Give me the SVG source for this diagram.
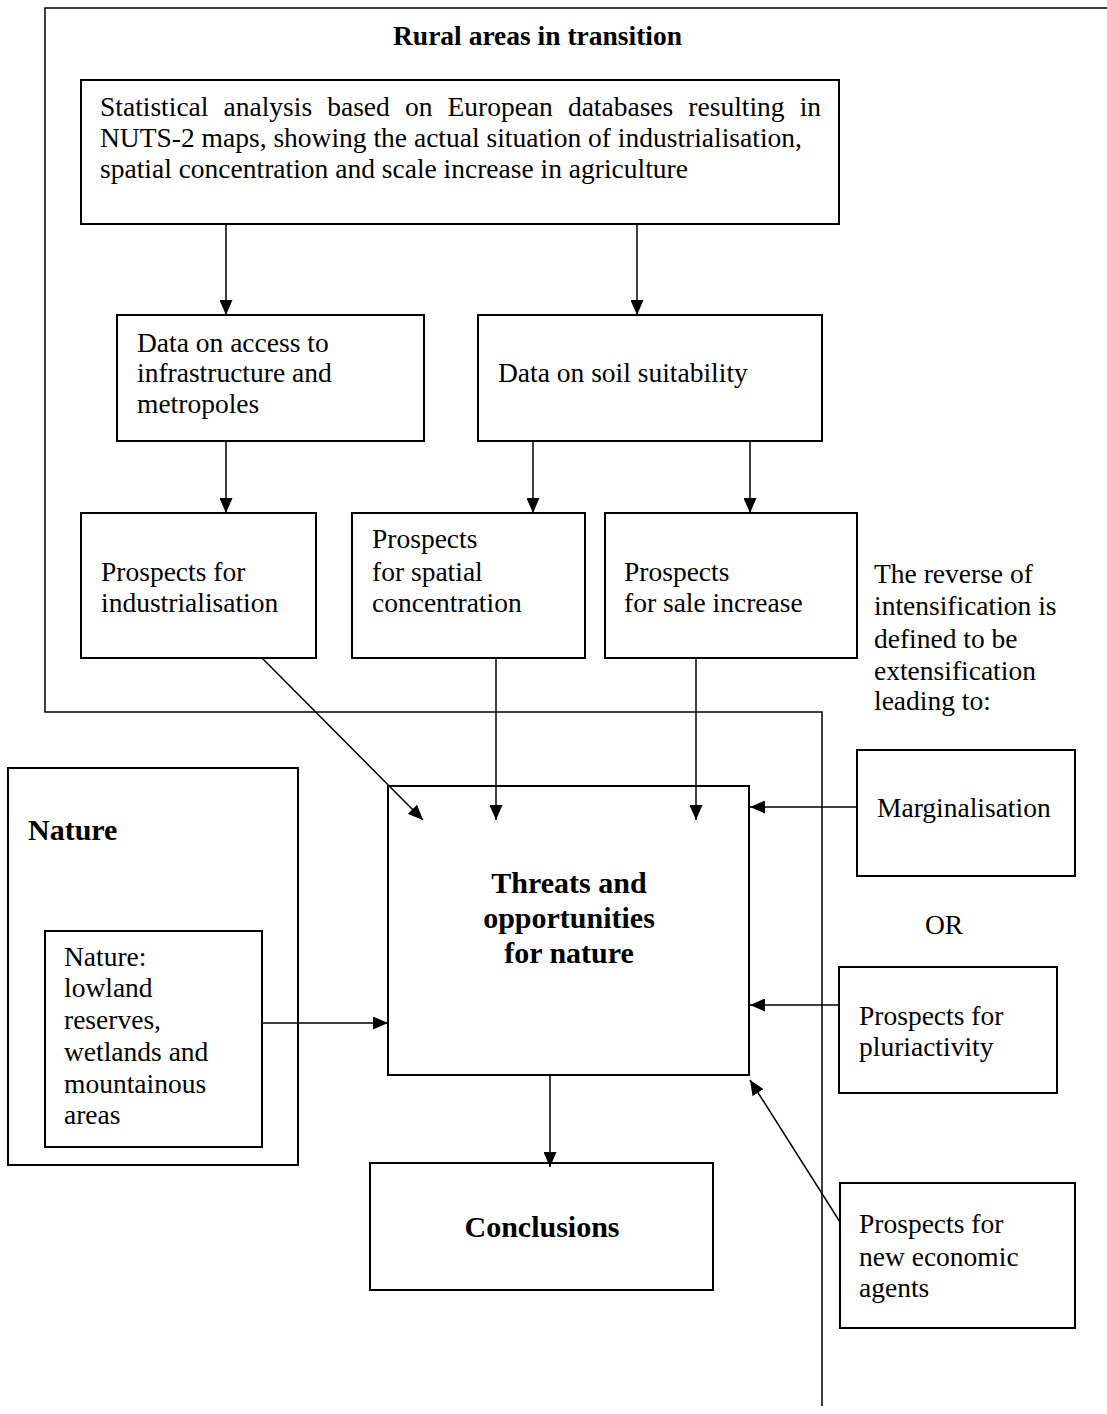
<svg xmlns="http://www.w3.org/2000/svg" width="1107" height="1414" viewBox="0 0 1107 1414">
<style>
.box{fill:none;stroke:#000;stroke-width:2}
.ln{fill:none;stroke:#000;stroke-width:1.5}
.t{font-family:"Liberation Serif","Times New Roman",serif;font-size:27.5px;fill:#000}
.b{font-family:"Liberation Serif","Times New Roman",serif;font-size:30px;font-weight:bold;fill:#000}
</style>
<defs>
<marker id="ah" markerUnits="userSpaceOnUse" markerWidth="15" markerHeight="13" refX="15" refY="6.5" orient="auto">
<path d="M0,0 L15,6.5 L0,13 z" fill="#000"/>
</marker>
</defs>
<rect width="1107" height="1414" fill="#fff"/>
<g id="rural-frame">
<path class="ln" d="M1107,8 H45 V712 H822 V1406"/>
<text class="t" x="393" y="45" style="font-weight:bold">Rural areas in transition</text>
</g>
<g id="statistical">
<rect class="box" x="81" y="80" width="758" height="144"/>
<text class="t" x="100" y="116" word-spacing="8.2">Statistical analysis based on European databases resulting in</text>
<text class="t" x="100" y="147">NUTS-2 maps, showing the actual situation of industrialisation,</text>
<text class="t" x="100" y="178">spatial concentration and scale increase in agriculture</text>
</g>
<g id="data-access">
<rect class="box" x="117" y="315" width="307" height="126"/>
<text class="t" x="137" y="352">Data on access to</text>
<text class="t" x="137" y="382">infrastructure and</text>
<text class="t" x="137" y="413">metropoles</text>
</g>
<g id="data-soil">
<rect class="box" x="478" y="315" width="344" height="126"/>
<text class="t" x="498" y="382">Data on soil suitability</text>
</g>
<g id="p-industrialisation">
<rect class="box" x="81" y="513" width="235" height="145"/>
<text class="t" x="101" y="581">Prospects for</text>
<text class="t" x="101" y="612">industrialisation</text>
</g>
<g id="p-spatial">
<rect class="box" x="352" y="513" width="233" height="145"/>
<text class="t" x="372" y="548">Prospects</text>
<text class="t" x="372" y="581">for spatial</text>
<text class="t" x="372" y="612">concentration</text>
</g>
<g id="p-sale">
<rect class="box" x="605" y="513" width="252" height="145"/>
<text class="t" x="624" y="581">Prospects</text>
<text class="t" x="624" y="612">for sale increase</text>
</g>
<g id="reverse-note">
<text class="t" x="874" y="583">The reverse of</text>
<text class="t" x="874" y="615">intensification is</text>
<text class="t" x="874" y="648">defined to be</text>
<text class="t" x="874" y="680">extensification</text>
<text class="t" x="874" y="710">leading to:</text>
</g>
<g id="threats">
<rect class="box" x="388" y="786" width="361" height="289"/>
<text class="b" x="569" y="893" text-anchor="middle">Threats and</text>
<text class="b" x="569" y="928" text-anchor="middle">opportunities</text>
<text class="b" x="569" y="963" text-anchor="middle">for nature</text>
</g>
<g id="nature">
<rect class="box" x="8" y="768" width="290" height="397"/>
<text class="b" x="28" y="840">Nature</text>
</g>
<g id="nature-inner">
<rect class="box" x="45" y="931" width="217" height="216"/>
<text class="t" x="64" y="966">Nature:</text>
<text class="t" x="64" y="997">lowland</text>
<text class="t" x="64" y="1029">reserves,</text>
<text class="t" x="64" y="1061">wetlands and</text>
<text class="t" x="64" y="1093">mountainous</text>
<text class="t" x="64" y="1124">areas</text>
</g>
<g id="marginalisation">
<rect class="box" x="857" y="750" width="218" height="126"/>
<text class="t" x="877" y="817">Marginalisation</text>
</g>
<g id="or-label">
<text class="t" x="925" y="934">OR</text>
</g>
<g id="pluriactivity">
<rect class="box" x="839" y="967" width="218" height="126"/>
<text class="t" x="859" y="1025">Prospects for</text>
<text class="t" x="859" y="1056">pluriactivity</text>
</g>
<g id="new-agents">
<rect class="box" x="840" y="1183" width="235" height="145"/>
<text class="t" x="859" y="1233">Prospects for</text>
<text class="t" x="859" y="1266">new economic</text>
<text class="t" x="859" y="1297">agents</text>
</g>
<g id="conclusions">
<rect class="box" x="370" y="1163" width="343" height="127"/>
<text class="b" x="542" y="1237" text-anchor="middle">Conclusions</text>
</g>
<g id="connectors">
<path class="ln" marker-end="url(#ah)" d="M226,224 V315"/>
<path class="ln" marker-end="url(#ah)" d="M637,224 V315"/>
<path class="ln" marker-end="url(#ah)" d="M226,441 V513"/>
<path class="ln" marker-end="url(#ah)" d="M533,441 V513"/>
<path class="ln" marker-end="url(#ah)" d="M750,441 V513"/>
<path class="ln" marker-end="url(#ah)" d="M262,658 L423,820"/>
<path class="ln" marker-end="url(#ah)" d="M496,658 V820"/>
<path class="ln" marker-end="url(#ah)" d="M696,658 V820"/>
<path class="ln" marker-end="url(#ah)" d="M857,807 H750"/>
<path class="ln" marker-end="url(#ah)" d="M839,1005 H750"/>
<path class="ln" marker-end="url(#ah)" d="M840,1222 L750,1080"/>
<path class="ln" marker-end="url(#ah)" d="M262,1023 H388"/>
<path class="ln" marker-end="url(#ah)" d="M550,1075 V1167"/>
</g>
</svg>
